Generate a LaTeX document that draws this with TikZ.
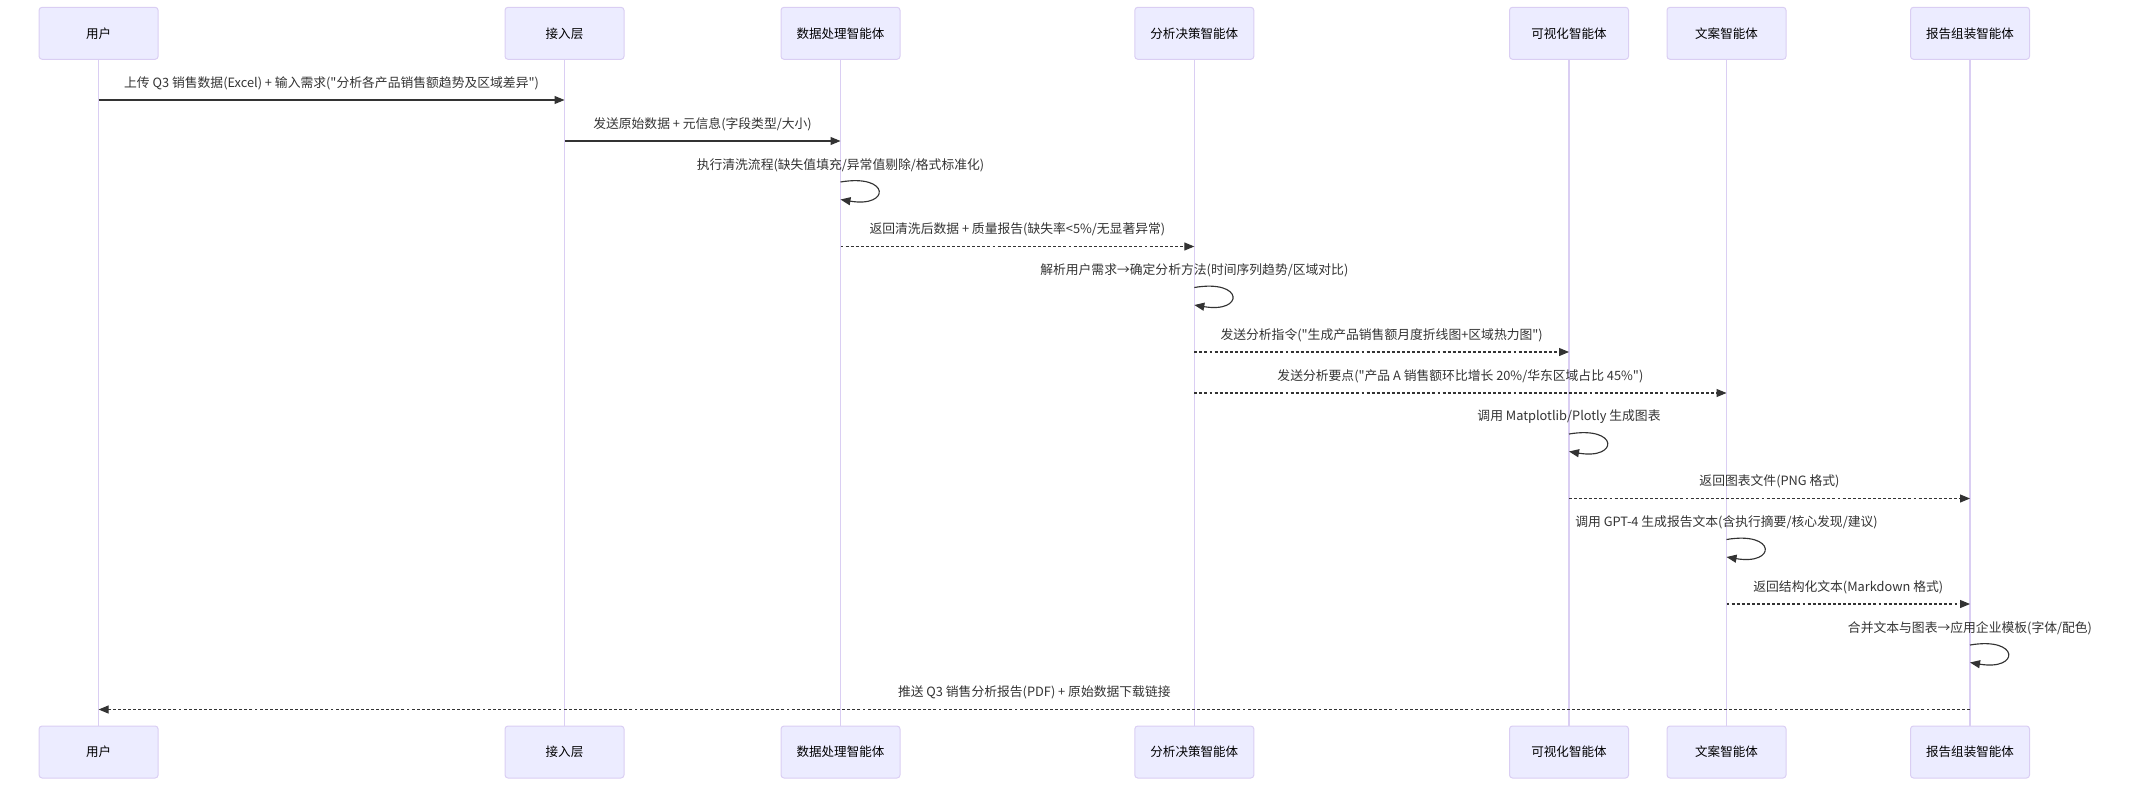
\documentclass[tikz,border=0pt]{standalone}
\usepackage{fontspec}
\newfontfamily\cjk{Noto Sans CJK SC}
\usetikzlibrary{arrows.meta,calc}
\definecolor{actfill}{HTML}{ECECFF}
\definecolor{actline}{HTML}{DACEF3}
\definecolor{msgc}{HTML}{333333}
\begin{document}
\begin{tikzpicture}[x=0.75pt,y=-0.75pt,
  actorbox/.style={draw=actline, fill=actfill, rounded corners=2.25pt, minimum width=89.25pt, minimum height=39pt, inner sep=0pt, line width=0.75pt, font=\cjk\fontsize{9.4}{11}\selectfont, text=black},
  life/.style={draw=actline, line width=0.9pt},
  msg/.style={draw=msgc, line width=0.85pt, -{Triangle[length=7.5pt,width=6pt]}},
  rmsg/.style={msg, dash pattern=on 2.2pt off 1.6pt},
  lbl/.style={font=\cjk\fontsize{9.6}{11}\selectfont, text=msgc, inner sep=0pt}]
\useasboundingbox (0,0) rectangle (2133,810);
% actors top
\node[actorbox] (ut) at (98.6,33.3) {用户};
\node[actorbox] (jt) at (564.5,33.3) {接入层};
\node[actorbox] (dt) at (840.5,33.3) {数据处理智能体};
\node[actorbox] (at) at (1194.3,33.3) {分析决策智能体};
\node[actorbox] (vt) at (1569,33.3) {可视化智能体};
\node[actorbox] (wt) at (1726.5,33.3) {文案智能体};
\node[actorbox] (rt) at (1970,33.3) {报告组装智能体};
% actors bottom
\node[actorbox] (ub) at (98.6,752) {用户};
\node[actorbox] (jb) at (564.5,752) {接入层};
\node[actorbox] (db) at (840.5,752) {数据处理智能体};
\node[actorbox] (ab) at (1194.3,752) {分析决策智能体};
\node[actorbox] (vb) at (1569,752) {可视化智能体};
\node[actorbox] (wb) at (1726.5,752) {文案智能体};
\node[actorbox] (rb) at (1970,752) {报告组装智能体};
% lifelines
\foreach \n in {u,j,d,a,v,w,r}{
  \draw[life] (\n t.south) -- (\n b.north);
}
% message rows
\coordinate (m1) at (0,100);
\coordinate (m2) at (0,141);
\coordinate (m3) at (0,182);   \coordinate (m3e) at (0,199.5);
\coordinate (m4) at (0,246.5);
\coordinate (m5) at (0,287.5); \coordinate (m5e) at (0,305);
\coordinate (m6) at (0,352);
\coordinate (m7) at (0,393);
\coordinate (m8) at (0,434);   \coordinate (m8e) at (0,451.5);
\coordinate (m9) at (0,498.5);
\coordinate (m10) at (0,539.5); \coordinate (m10e) at (0,557);
\coordinate (m11) at (0,604);
\coordinate (m12) at (0,645);  \coordinate (m12e) at (0,662.5);
\coordinate (m13) at (0,709.5);
% 1
\draw[msg] (ut |- m1) -- (jt |- m1);
\node[lbl] (l1) at ($($(ut |- m1)!0.5!(jt |- m1)$)+(0,-17)$) {上传 Q3 销售数据(Excel) + 输入需求("分析各产品销售额趋势及区域差异")};
% 2
\draw[msg] (jt |- m2) -- (dt |- m2);
\node[lbl] (l2) at ($($(jt |- m2)!0.5!(dt |- m2)$)+(0,-17)$) {发送原始数据 + 元信息(字段类型/大小)};
% 3 self
\draw[msg] (dt |- m3) .. controls ($(dt |- m3)+(50,-8.5)$) and ($(dt |- m3e)+(50,8.5)$) .. (dt |- m3e);
\node[lbl] (l3) at ($(dt |- m3)+(0,-17)$) {执行清洗流程(缺失值填充/异常值剔除/格式标准化)};
% 4
\draw[rmsg] (dt |- m4) -- (at |- m4);
\node[lbl] (l4) at ($($(dt |- m4)!0.5!(at |- m4)$)+(0,-17)$) {返回清洗后数据 + 质量报告(缺失率<5\%/无显著异常)};
% 5 self
\draw[msg] (at |- m5) .. controls ($(at |- m5)+(50,-8.5)$) and ($(at |- m5e)+(50,8.5)$) .. (at |- m5e);
\node[lbl] (l5) at ($(at |- m5)+(0,-17)$) {解析用户需求→确定分析方法(时间序列趋势/区域对比)};
% 6
\draw[rmsg] (at |- m6) -- (vt |- m6);
\node[lbl] (l6) at ($($(at |- m6)!0.5!(vt |- m6)$)+(0,-17)$) {发送分析指令("生成产品销售额月度折线图+区域热力图")};
% 7
\draw[rmsg] (at |- m7) -- (wt |- m7);
\node[lbl] (l7) at ($($(at |- m7)!0.5!(wt |- m7)$)+(0,-17)$) {发送分析要点("产品 A 销售额环比增长 20\%/华东区域占比 45\%")};
% 8 self
\draw[msg] (vt |- m8) .. controls ($(vt |- m8)+(50,-8.5)$) and ($(vt |- m8e)+(50,8.5)$) .. (vt |- m8e);
\node[lbl] (l8) at ($(vt |- m8)+(0,-17)$) {调用 Matplotlib/Plotly 生成图表};
% 9
\draw[rmsg] (vt |- m9) -- (rt |- m9);
\node[lbl] (l9) at ($($(vt |- m9)!0.5!(rt |- m9)$)+(0,-17)$) {返回图表文件(PNG 格式)};
% 10 self
\draw[msg] (wt |- m10) .. controls ($(wt |- m10)+(50,-8.5)$) and ($(wt |- m10e)+(50,8.5)$) .. (wt |- m10e);
\node[lbl] (l10) at ($(wt |- m10)+(0,-17)$) {调用 GPT-4 生成报告文本(含执行摘要/核心发现/建议)};
% 11
\draw[rmsg] (wt |- m11) -- (rt |- m11);
\node[lbl] (l11) at ($($(wt |- m11)!0.5!(rt |- m11)$)+(0,-17)$) {返回结构化文本(Markdown 格式)};
% 12 self
\draw[msg] (rt |- m12) .. controls ($(rt |- m12)+(50,-8.5)$) and ($(rt |- m12e)+(50,8.5)$) .. (rt |- m12e);
\node[lbl] (l12) at ($(rt |- m12)+(0,-17)$) {合并文本与图表→应用企业模板(字体/配色)};
% 13
\draw[rmsg] (rt |- m13) -- (ut |- m13);
\node[lbl] (l13) at ($($(rt |- m13)!0.5!(ut |- m13)$)+(0,-17)$) {推送 Q3 销售分析报告(PDF) + 原始数据下载链接};
\end{tikzpicture}
\end{document}
